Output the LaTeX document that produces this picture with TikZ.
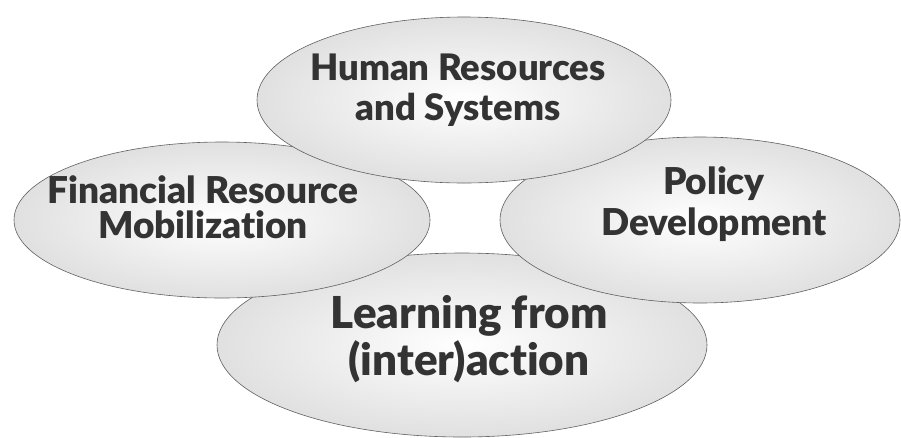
\documentclass[tikz,border=0pt]{standalone}
\usepackage{fontspec}
\setmainfont{Lato}[BoldFont={Lato Black}, Ligatures=NoCommon]
\usetikzlibrary{shapes.geometric}
\pgfdeclareradialshading{ballg}{\pgfpoint{0bp}{0bp}}{color(0bp)=(white); color(6bp)=(white!97!black); color(50bp)=(black!24); color(80bp)=(black!24)}
\definecolor{txt}{HTML}{333333}
\definecolor{rim}{HTML}{606060}
\tikzset{
  blob/.style={ellipse, draw=rim, line width=0.6pt, shading=ballg, inner sep=0pt},
  label/.style={text=txt, align=center, inner sep=0pt, anchor=base, font=\bfseries}
}
\begin{document}
\begin{tikzpicture}[x=1pt,y=-1pt]
\useasboundingbox (0,0) rectangle (901,437);
% stacking order: bottom, left, right, top
\node[blob, minimum width=490pt, minimum height=184pt] (learn) at (462,345) {};
\node[blob, minimum width=416pt, minimum height=156pt] (fin) at (222,220) {};
\node[blob, minimum width=400pt, minimum height=166pt] (pol) at (700,220) {};
\node[blob, minimum width=414pt, minimum height=166pt] (hr) at (464,100) {};
% texts (base anchor = baseline of last line)
\node[label, font=\bfseries\fontsize{36.5}{40}\selectfont] (thr) at (458,120) {Human Resources\\and Systems};
\node[label, font=\bfseries\fontsize{37}{35}\selectfont] (tfin) at (203,238) {Financial Resource\\Mobilization};
\node[label, font=\bfseries\fontsize{37}{41}\selectfont] (tpol) at (714,235) {Policy\\Development};
\node[label, font=\bfseries\fontsize{44}{47}\selectfont] (tlearn) at (469,375) {Learning from\\(inter)action};
\end{tikzpicture}
\end{document}
